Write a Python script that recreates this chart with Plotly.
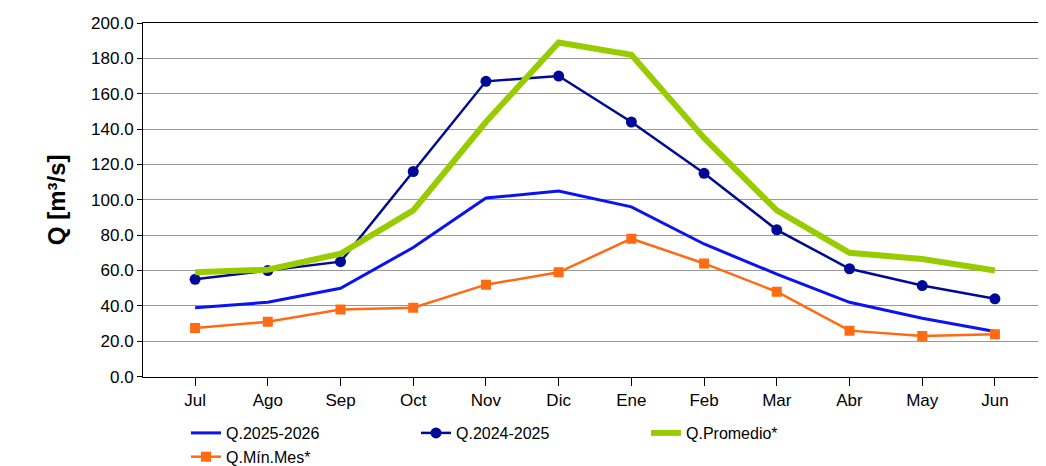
import plotly.graph_objects as go

months = ["Jul","Ago","Sep","Oct","Nov","Dic","Ene","Feb","Mar","Abr","May","Jun"]
q2526 = [39, 42, 50, 73, 101, 105, 96, 75, 58, 42, 33, 25.5]
q2425 = [55, 60, 65, 116, 167, 170, 144, 115, 83, 61, 51.5, 44]
qprom = [59, 60.5, 69.5, 94, 144, 189, 182, 135, 94, 70, 66.5, 60]
qmin = [27.5, 31, 38, 39, 52, 59, 78, 64, 48, 26, 23, 24]

fig = go.Figure()
fig.add_trace(go.Scatter(x=months, y=q2526, name="Q.2025-2026", mode="lines",
                         line=dict(color="#0A14F0", width=3)))
fig.add_trace(go.Scatter(x=months, y=q2425, name="Q.2024-2025", mode="lines+markers",
                         line=dict(color="#000A96", width=2.5), marker=dict(size=11, color="#000A96")))
fig.add_trace(go.Scatter(x=months, y=qprom, name="Q.Promedio*", mode="lines",
                         line=dict(color="#99CC00", width=6)))
fig.add_trace(go.Scatter(x=months, y=qmin, name="Q.Mín.Mes*", mode="lines+markers",
                         line=dict(color="#FF6A13", width=2.5),
                         marker=dict(size=10, symbol="square", color="#FF6A13")))

fig.update_layout(
    width=1046, height=466, paper_bgcolor="white", plot_bgcolor="white",
    margin=dict(l=135, r=6, t=12, b=86),
    font=dict(family="Liberation Sans, Arial", size=17, color="black"),
    legend=dict(orientation="h", x=0.5, xanchor="center", xref="container",
                y=0.0, yanchor="bottom", yref="container",
                font=dict(size=16), entrywidth=185),
    showlegend=True,
)
fig.update_xaxes(showline=True, linecolor="black", mirror=True, ticks="outside",
                 ticklen=8, tickcolor="black", showgrid=False)
fig.update_yaxes(range=[0, 200], dtick=20, tickformat=".1f", showline=True,
                 linecolor="black", mirror=True, ticks="outside", ticklen=5, tickcolor="black",
                 gridcolor="#999999", gridwidth=1,
                 title=dict(text="<b>Q [m³/s]</b>", font=dict(size=24), standoff=18))
fig.write_html("out.html")
